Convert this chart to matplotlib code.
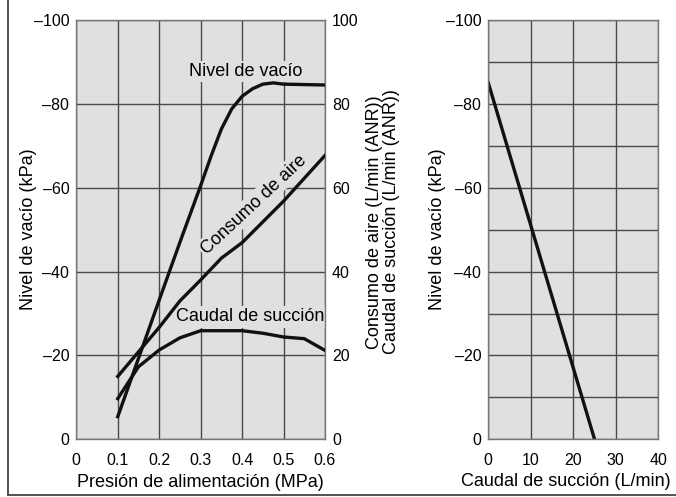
"""
Vacuum ejector characteristics: vacuum level / air consumption / suction flow
vs supply pressure, and vacuum level vs suction flow.
"""

import matplotlib
matplotlib.use("Agg")
import matplotlib.pyplot as plt
from matplotlib.lines import Line2D

# --- data -------------------------------------------------------------------
# left chart, x = supply pressure (MPa)
vac_p = [0.1, 0.15, 0.2, 0.25, 0.3, 0.325, 0.35, 0.375, 0.4, 0.425, 0.45, 0.475, 0.5, 0.55, 0.6]
vac_level = [-5.4, -19.3, -33.2, -47.0, -60.5, -67.5, -74.0, -78.8, -81.8, -83.6, -84.7, -85.0, -84.7, -84.6, -84.5]

air_p = [0.1, 0.2, 0.25, 0.3, 0.35, 0.4, 0.5, 0.6]
air_cons = [15.0, 26.7, 33.0, 38.0, 43.2, 46.9, 56.8, 67.7]

suc_p = [0.1, 0.15, 0.2, 0.25, 0.3, 0.4, 0.45, 0.5, 0.55, 0.6]
suc_flow = [9.7, 17.3, 21.3, 24.2, 25.9, 25.9, 25.3, 24.4, 24.0, 21.2]

# right chart, vacuum level vs suction flow
flow_q = [0, 25]
flow_vac = [-85, 0]

p_ticks = [0, 0.1, 0.2, 0.3, 0.4, 0.5, 0.6]
kpa_ticks = [0, -20, -40, -60, -80, -100]
anr_ticks = [0, 20, 40, 60, 80, 100]
q_ticks = [0, 10, 20, 30, 40]

BG = "#e0e0e0"
GRID = "#4a4a4a"
FONT = ["Liberation Sans", "DejaVu Sans"]
FS = 13         # labels / annotations
TFS = 11.5      # tick labels

plt.rcParams["font.family"] = FONT

fig = plt.figure(figsize=(6.76, 4.97), dpi=100)

W, H = 676.0, 497.0


def box(x0, y0, x1, y1):
    return [x0 / W, 1 - y1 / H, (x1 - x0) / W, (y1 - y0) / H]


def minus(t):
    return "\u2013" + str(abs(t)) if t else "0"


def style_axes(a):
    a.set_facecolor(BG)
    for s in a.spines.values():
        s.set_color("#777777")
        s.set_linewidth(1.0)
    a.tick_params(length=0, labelsize=TFS, colors="black")
    a.tick_params(axis="x", pad=10)
    a.tick_params(axis="y", pad=5)
    a.grid(True, color=GRID, linewidth=1.0)
    a.set_axisbelow(True)


# ---- left chart ----
ax = fig.add_axes(box(76.3, 20, 325, 439.3))
ax.set_xlim(0, 0.6)
ax.set_ylim(0, -100)
ax.set_xticks(p_ticks)
ax.set_xticklabels([f"{t:g}" for t in p_ticks])
ax.set_yticks(kpa_ticks)
ax.set_yticklabels([minus(t) for t in kpa_ticks])
style_axes(ax)

ax.plot(vac_p, vac_level, color="#111111", lw=2.4, solid_joinstyle="round", zorder=3)

tb = dict(facecolor=BG, edgecolor="none", pad=1.5)
ax.text(0.409, -86.7, "Nivel de vacío", ha="center", va="baseline", fontsize=FS,
        bbox=tb, zorder=2)
ax.text(0.419, -28.1, "Caudal de succión", ha="center", va="baseline", fontsize=FS,
        bbox=tb, zorder=2)
ax.text(0.428, -56.0, "Consumo de aire", ha="center", va="center", fontsize=FS,
        rotation=43, bbox=tb, zorder=2)

ax2 = ax.twinx()
ax2.set_ylim(0, 100)
ax2.set_yticks(anr_ticks)
ax2.tick_params(length=0, labelsize=TFS, pad=5)
for s in ax2.spines.values():
    s.set_visible(False)
ax2.plot(air_p, air_cons, color="#111111", lw=2.4, solid_joinstyle="round")
ax2.plot(suc_p, suc_flow, color="#111111", lw=2.4, solid_joinstyle="round")

# axis titles placed at the pixel positions of the reference
fig.text(200 / W, 1 - 486.7 / H, "Presión de alimentación (MPa)", ha="center",
         va="baseline", fontsize=FS)
fig.text(29 / W, 1 - 229.6 / H, "Nivel de vacío (kPa)", rotation=90, ha="center",
         va="center", fontsize=FS)
fig.text(383.3 / W, 1 - 222 / H,
         "Consumo de aire (L/min (ANR))\nCaudal de succión (L/min (ANR))",
         rotation=90, ha="center", va="center", fontsize=FS, linespacing=1.0,
         multialignment="center")

# ---- right chart ----
kpa_fine = list(range(0, -101, -10))
bx = fig.add_axes(box(488.3, 20, 658.3, 439.3))
bx.set_xlim(0, 40)
bx.set_ylim(0, -100)
bx.set_xticks(q_ticks)
bx.set_yticks(kpa_fine)
bx.set_yticklabels([minus(t) if t % 20 == 0 else "" for t in kpa_fine])
style_axes(bx)
bx.plot(flow_q, flow_vac, color="#111111", lw=2.4)

fig.text(566 / W, 1 - 485.5 / H, "Caudal de succión (L/min)", ha="center",
         va="baseline", fontsize=FS)
fig.text(437.5 / W, 1 - 229.6 / H, "Nivel de vacío (kPa)", rotation=90, ha="center",
         va="center", fontsize=FS)

# outer frame (left and bottom edges)
fig.add_artist(Line2D([8 / W, 8 / W], [1 - 495 / H, 1.0], color="#444444", lw=1.3))
fig.add_artist(Line2D([8 / W, 1.0], [1 - 495 / H, 1 - 495 / H], color="#444444", lw=1.3))

fig.savefig("out.png", dpi=100, facecolor="white")
